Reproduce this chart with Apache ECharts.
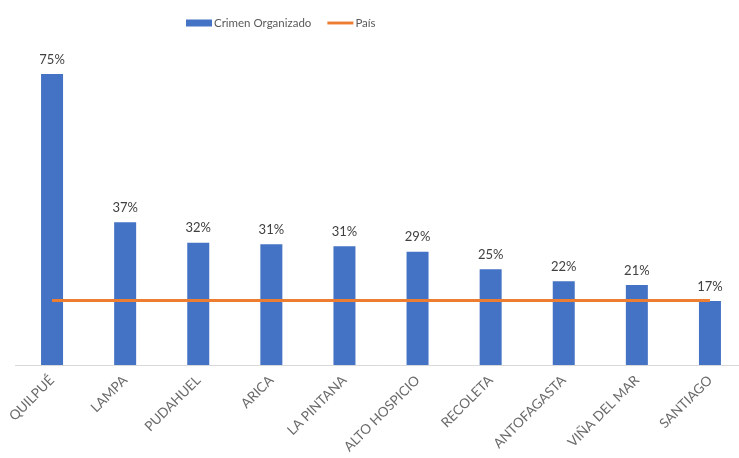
<!DOCTYPE html>
<html>
<head>
<meta charset="utf-8">
<script src="https://cdn.jsdelivr.net/npm/echarts@6/dist/echarts.min.js"></script>
<style>html,body{margin:0;padding:0;background:#fff;}#c{width:739px;height:458px;}</style>
</head>
<body>
<div id="c"></div>
<script>
const categories = ['QUILPUÉ','LAMPA','PUDAHUEL','ARICA','LA PINTANA','ALTO HOSPICIO','RECOLETA','ANTOFAGASTA','VIÑA DEL MAR','SANTIAGO'];
const crimenOrganizado = [75, 36.8, 31.5, 31.1, 30.6, 29.2, 24.7, 21.6, 20.6, 16.5];
const pais = [16.6, 16.6, 16.6, 16.6, 16.6, 16.6, 16.6, 16.6, 16.6, 16.6];

const FONT = "Lato, 'Open Sans', sans-serif";
const chart = echarts.init(document.getElementById('c'), null, {renderer:'canvas'});
chart.setOption({
  animation: false,
  backgroundColor: '#ffffff',
  textStyle: {fontFamily: FONT},
  legend: {
    top: 12, left: 181, itemGap: 16,
    textStyle: {color: '#595959', fontSize: 11.5, fontFamily: FONT, padding: [0,0,0,-3]},
    data: [
      {name: 'Crimen Organizado', icon: 'rect', itemStyle: {color: '#4472C4'}},
      {name: 'País', icon: 'path://M0,0 H27 V3 H0 Z', itemStyle: {color: '#ED7D31'}}
    ],
    itemWidth: 26, itemHeight: 7
  },
  grid: {left: 15.5, right: -7.5, top: 54.6, bottom: 93, containLabel: false, outerBoundsMode: 'none'},
  xAxis: {
    type: 'category', data: categories, boundaryGap: true,
    axisLine: {lineStyle: {color: '#d9d9d9', width: 1}},
    axisTick: {show: false},
    axisLabel: {rotate: 45, color: '#6a6a6a', fontSize: 13.5, margin: 13, fontFamily: FONT, interval: 0}
  },
  yAxis: {type: 'value', min: 0, max: 80, show: false, splitLine: {show: false}},
  series: [
    {
      name: 'Crimen Organizado', type: 'bar', data: crimenOrganizado, barWidth: 22,
      itemStyle: {color: '#4472C4'},
      label: {show: true, position: 'top', distance: 8, color: '#404040', fontSize: 13, fontFamily: FONT,
        formatter: p => Math.round(p.value) + '%'}
    },
    {
      name: 'País', type: 'line', data: pais, symbol: 'none',
      lineStyle: {color: '#ED7D31', width: 3}, itemStyle: {color: '#ED7D31'}, z: 5
    }
  ]
});
</script>
</body>
</html>
